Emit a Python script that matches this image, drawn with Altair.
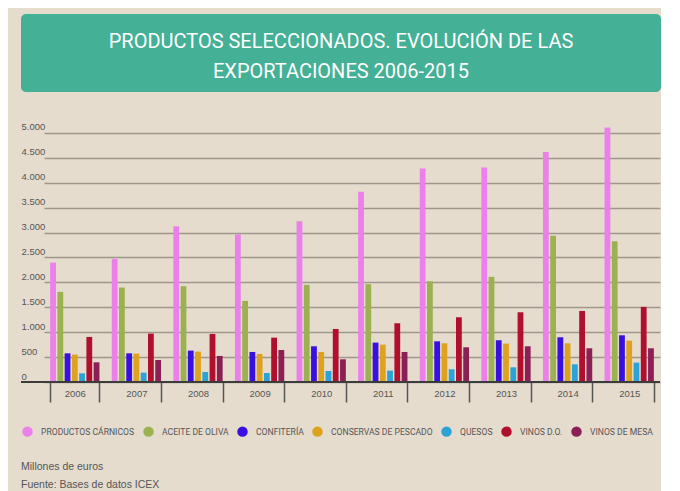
import altair as alt
import pandas as pd

years = ["2006", "2007", "2008", "2009", "2010", "2011", "2012", "2013", "2014", "2015"]
products = ["PRODUCTOS CÁRNICOS", "ACEITE DE OLIVA", "CONFITERÍA", "CONSERVAS DE PESCADO",
            "QUESOS", "VINOS D.O.", "VINOS DE MESA"]
colors = ["#EC80EA", "#9CB251", "#3A10E0", "#DDA21E", "#2CA3D6", "#B10F2E", "#8B2057"]

carnicos = [2400, 2472, 3129, 2961, 3229, 3819, 4288, 4308, 4616, 5112]
aceite = [1810, 1896, 1923, 1628, 1950, 1963, 2023, 2111, 2935, 2827]
confiteria = [576, 576, 630, 603, 717, 791, 817, 838, 898, 938]
conservas = [550, 570, 610, 563, 603, 750, 777, 771, 777, 831]
quesos = [174, 188, 201, 181, 221, 228, 255, 295, 355, 389]
vinos_do = [905, 972, 965, 891, 1065, 1179, 1300, 1400, 1427, 1508]
vinos_mesa = [395, 442, 523, 643, 456, 603, 697, 717, 677, 677]

title_lines = ["PRODUCTOS SELECCIONADOS. EVOLUCIÓN DE LAS", "EXPORTACIONES 2006-2015"]
footer_lines = ["Millones de euros", "Fuente: Bases de datos ICEX"]
y_ticks = [0, 500, 1000, 1500, 2000, 2500, 3000, 3500, 4000, 4500, 5000]

series = [carnicos, aceite, confiteria, conservas, quesos, vinos_do, vinos_mesa]
rows = []
for p, vals in zip(products, series):
    for y, v in zip(years, vals):
        rows.append({"year": y, "product": p, "value": v})
df = pd.DataFrame(rows)

NARROW = "Roboto, sans-serif"
SANS = "Liberation Sans, Arial, sans-serif"
TXT = "#555555"

header_df = pd.DataFrame({"line": [0, 1], "text": title_lines})
header = alt.Chart(header_df).mark_text(
    color="white", font=NARROW, fontSize=20, baseline="middle", align="center"
).encode(
    y=alt.Y("line:O", axis=None, scale=alt.Scale(range=[28, 58], padding=0)),
    text="text:N",
).properties(
    width=640, height=78,
    view=alt.ViewBackground(fill="#44B096", cornerRadius=5, strokeWidth=0),
)

y_axis = alt.Axis(values=y_ticks, tickCount=11,
                  labelExpr="replace(format(datum.value, ','), ',', '.')",
                  labelAlign="left", labelBaseline="bottom", labelPadding=0,
                  labelOffset=-1, labelOverlap=False, ticks=False, domain=False,
                  grid=True, gridColor="#A0978A", gridWidth=1.5, labelColor=TXT,
                  labelFontSize=9.5, labelFont=SANS)
y_scale = alt.Scale(domain=[0, 5200], nice=False)

bars = alt.Chart(df).mark_bar().encode(
    x=alt.X("year:N", sort=years, title=None,
            scale=alt.Scale(range=[23, 639], paddingInner=0.2, paddingOuter=0.1),
            axis=alt.Axis(tickBand="extent", tickSize=20, tickColor="#555555", tickWidth=1.5,
                          domain=False, labelAngle=0, labelPadding=-14, labelFontSize=9.5,
                          labelFont=SANS, labelColor=TXT, grid=False)),
    xOffset=alt.XOffset("product:N", sort=products,
                        scale=alt.Scale(paddingInner=0.2, paddingOuter=0)),
    y=alt.Y("value:Q", title=None, scale=y_scale, axis=y_axis),
    color=alt.Color("product:N", sort=products,
                    scale=alt.Scale(domain=products, range=colors),
                    legend=alt.Legend(title=None, orient="none", legendX=1, legendY=412,
                                      direction="horizontal", columns=7,
                                      symbolType="circle", symbolSize=110,
                                      symbolStrokeWidth=0, labelFontSize=8.6,
                                      labelFont=NARROW, labelColor=TXT, labelOffset=8,
                                      columnPadding=8, labelLimit=0)),
)

zero_df = pd.DataFrame({"value": [0]})
zero = alt.Chart(zero_df).mark_rule(color="#3C3C3C", strokeWidth=2).encode(
    y=alt.Y("value:Q", title=None, scale=y_scale, axis=y_axis)
)

main = alt.layer(bars, zero).properties(
    width=639, height=259,
    title=alt.TitleParams(text=footer_lines, orient="bottom", anchor="start", frame="group",
                          fontSize=10.5, font=SANS, color=TXT, fontWeight="normal",
                          lineHeight=18, offset=59),
)

chart = alt.vconcat(header, main, spacing=29).properties(
    background="#E5DCCE",
    padding={"left": 12, "top": 6, "right": 0, "bottom": 0},
).configure_view(strokeWidth=0)

chart.save("out.html", embed_options={"renderer": "svg", "actions": False})
